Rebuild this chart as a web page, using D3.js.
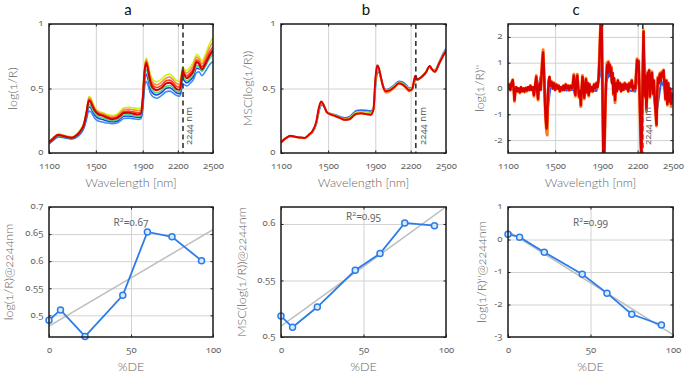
<!DOCTYPE html>
<html>
<head>
<meta charset="utf-8">
<script src="https://cdnjs.cloudflare.com/ajax/libs/d3/7.8.5/d3.min.js"></script>
<style>
  body { margin: 0; background: #fff; }
  svg text {
    font-family: Lato, "Open Sans", sans-serif;
    font-variant-numeric: oldstyle-nums;
    font-feature-settings: "onum";
  }
  svg text.num { font-family: "Noto Sans", Lato, sans-serif; }
  .grid line { stroke: #d2d2d2; stroke-width: 1; }
  .ax line { stroke: #222; }
  .ax text { fill: #666; font-size: 9.5px; font-family: "Noto Sans", Lato, sans-serif; }
  .lbl { fill: #666; font-size: 12.5px; font-weight: 300; }
</style>
</head>
<body>
<div id="chart"></div>
<script>
// ---------- data ----------
const wl = [1100,1140,1180,1220,1260,1300,1340,1370,1400,1420,1440,1455,1470,1490,1520,1560,1600,1640,1680,1710,
  1740,1780,1820,1860,1885,1900,1915,1930,1945,1965,1990,2020,2060,2100,2130,2160,2190,2215,2228,2240,
  2255,2275,2300,2330,2362,2380,2405,2440,2470,2500];

// raw spectra, log(1/R)
const rawYellow = [0.085,0.125,0.148,0.140,0.130,0.126,0.150,0.182,0.240,0.330,0.437,0.432,0.398,0.355,0.325,0.312,0.298,0.290,0.300,0.325,
  0.350,0.355,0.350,0.345,0.350,0.455,0.665,0.737,0.695,0.610,0.565,0.552,0.572,0.605,0.612,0.590,0.560,0.555,0.605,0.665,
  0.652,0.640,0.660,0.700,0.765,0.750,0.715,0.775,0.845,0.895];
const rawOrange = [0.083,0.122,0.145,0.137,0.127,0.123,0.147,0.178,0.235,0.323,0.426,0.419,0.386,0.346,0.316,0.304,0.289,0.280,0.290,0.313,
  0.336,0.340,0.334,0.329,0.334,0.439,0.649,0.722,0.678,0.589,0.542,0.529,0.549,0.582,0.589,0.567,0.537,0.532,0.582,0.655,
  0.636,0.619,0.637,0.676,0.744,0.729,0.692,0.749,0.814,0.860];
const rawRed = [0.082,0.118,0.142,0.134,0.124,0.120,0.143,0.174,0.230,0.316,0.415,0.406,0.375,0.338,0.308,0.295,0.280,0.270,0.279,0.300,
  0.322,0.325,0.319,0.312,0.319,0.424,0.634,0.708,0.660,0.568,0.520,0.507,0.525,0.560,0.565,0.545,0.515,0.510,0.560,0.644,
  0.619,0.598,0.615,0.651,0.723,0.708,0.670,0.723,0.782,0.825];
const rawDarkRed = [0.080,0.115,0.140,0.132,0.122,0.118,0.140,0.170,0.225,0.310,0.405,0.395,0.365,0.330,0.300,0.288,0.272,0.262,0.270,0.290,
  0.310,0.312,0.305,0.298,0.305,0.410,0.620,0.695,0.645,0.550,0.500,0.487,0.505,0.540,0.545,0.525,0.495,0.490,0.540,0.635,
  0.605,0.580,0.595,0.630,0.705,0.690,0.650,0.700,0.755,0.795];
const rawGreen = [0.077,0.110,0.135,0.128,0.119,0.115,0.135,0.163,0.215,0.293,0.377,0.369,0.342,0.309,0.282,0.271,0.258,0.250,0.257,0.276,
  0.295,0.297,0.291,0.285,0.291,0.382,0.578,0.646,0.603,0.520,0.477,0.465,0.484,0.517,0.522,0.504,0.478,0.473,0.516,0.600,
  0.579,0.559,0.574,0.607,0.677,0.669,0.633,0.679,0.731,0.765];
const rawBlue = [0.074,0.106,0.131,0.125,0.116,0.112,0.131,0.158,0.207,0.280,0.357,0.351,0.326,0.294,0.269,0.259,0.248,0.242,0.247,0.266,
  0.285,0.287,0.281,0.275,0.281,0.362,0.548,0.611,0.573,0.499,0.461,0.450,0.469,0.501,0.506,0.489,0.465,0.460,0.498,0.575,
  0.560,0.544,0.559,0.591,0.657,0.654,0.640,0.690,0.750,0.800];
const rawLightBlue = [0.070,0.100,0.125,0.120,0.112,0.108,0.125,0.150,0.195,0.260,0.325,0.322,0.300,0.270,0.248,0.240,0.232,0.228,0.232,0.250,
  0.268,0.270,0.265,0.260,0.265,0.330,0.500,0.555,0.525,0.465,0.435,0.425,0.445,0.475,0.480,0.465,0.445,0.440,0.470,0.535,
  0.530,0.520,0.535,0.565,0.625,0.630,0.600,0.640,0.685,0.710];

// MSC corrected spectra
const mscBlue = [0.085,0.112,0.130,0.125,0.120,0.118,0.140,0.165,0.225,0.315,0.370,0.372,0.350,0.318,0.305,0.295,0.282,0.272,0.280,0.305,
  0.328,0.333,0.330,0.325,0.345,0.500,0.615,0.630,0.590,0.525,0.492,0.498,0.525,0.556,0.550,0.528,0.503,0.505,0.535,0.565,
  0.565,0.578,0.600,0.630,0.668,0.652,0.640,0.700,0.760,0.808];
const mscGreen = [0.084,0.114,0.132,0.126,0.120,0.118,0.143,0.170,0.235,0.330,0.385,0.379,0.353,0.317,0.303,0.291,0.277,0.265,0.271,0.295,
  0.317,0.321,0.317,0.311,0.343,0.530,0.648,0.645,0.595,0.523,0.485,0.492,0.518,0.548,0.541,0.519,0.494,0.503,0.548,0.582,
  0.568,0.578,0.598,0.628,0.672,0.651,0.635,0.695,0.753,0.799];
const mscYellow = [0.083,0.114,0.133,0.126,0.120,0.117,0.144,0.172,0.239,0.336,0.391,0.381,0.354,0.316,0.302,0.289,0.275,0.262,0.267,0.291,
  0.312,0.316,0.311,0.305,0.342,0.542,0.660,0.651,0.597,0.522,0.482,0.489,0.515,0.545,0.537,0.515,0.490,0.502,0.553,0.588,
  0.569,0.578,0.597,0.627,0.673,0.651,0.633,0.693,0.750,0.795];
const mscOrange = [0.080,0.112,0.131,0.123,0.117,0.114,0.141,0.171,0.240,0.338,0.394,0.380,0.351,0.312,0.297,0.285,0.270,0.256,0.260,0.283,
  0.303,0.306,0.301,0.295,0.336,0.552,0.670,0.655,0.594,0.510,0.467,0.474,0.503,0.536,0.528,0.502,0.476,0.492,0.553,0.592,
  0.566,0.574,0.592,0.622,0.670,0.648,0.628,0.688,0.742,0.786];
const mscRed = [0.082,0.115,0.134,0.126,0.120,0.117,0.145,0.175,0.245,0.345,0.400,0.385,0.355,0.315,0.300,0.287,0.272,0.258,0.262,0.285,
  0.305,0.308,0.303,0.297,0.340,0.560,0.680,0.660,0.600,0.520,0.478,0.485,0.510,0.540,0.532,0.510,0.485,0.500,0.560,0.598,
  0.570,0.578,0.595,0.625,0.675,0.650,0.630,0.690,0.745,0.790];

// second derivative
const wlD2 = [1100,1110,1120,1130,1140,1148,1155,1162,1170,1180,
  1190,1200,1210,1220,1230,1240,1250,1260,1270,1280,
  1290,1300,1310,1320,1330,1340,1348,1355,1362,1370,
  1378,1385,1392,1398,1403,1408,1413,1418,1423,1428,
  1433,1438,1445,1452,1460,1470,1480,1490,1500,1510,
  1520,1530,1540,1550,1560,1570,1580,1590,1600,1610,
  1620,1630,1640,1650,1658,1665,1672,1680,1688,1695,
  1702,1710,1718,1725,1732,1740,1747,1755,1762,1770,
  1778,1785,1792,1800,1810,1820,1830,1840,1850,1860,
  1868,1875,1882,1888,1894,1899,1904,1909,1916,1922,
  1928,1934,1940,1946,1952,1958,1964,1970,1976,1982,
  1988,1994,2000,2008,2016,2024,2032,2040,2050,2060,
  2070,2080,2090,2100,2110,2120,2130,2140,2150,2160,
  2170,2180,2188,2195,2202,2208,2214,2220,2226,2232,
  2238,2244,2250,2256,2262,2268,2274,2280,2286,2292,
  2298,2304,2310,2316,2322,2330,2338,2346,2354,2360,
  2366,2372,2380,2388,2396,2404,2412,2420,2428,2436,
  2444,2452,2460,2468,2476,2484,2492,2500];
const d2Red = [0.05,0.15,-0.05,0.2,0.32,0.0,-0.45,-0.1,0.05,-0.1,
  0.0,-0.15,0.05,-0.1,0.0,-0.12,0.02,-0.08,0.05,-0.05,
  0.1,-0.05,0.05,-0.25,0.1,0.45,-0.1,-0.4,0.1,0.2,
  -0.05,0.6,1.1,1.4,0.9,0.3,-0.5,-1.0,-1.35,-1.55,
  -1.2,-0.3,0.3,0.45,0.1,0.25,0.0,0.2,-0.05,0.15,
  0.0,0.1,-0.1,0.05,-0.05,0.1,-0.05,0.15,0.0,0.1,
  -0.05,0.1,0.0,0.15,0.5,-0.1,-0.25,0.3,0.5,0.1,
  -0.3,-0.1,-0.65,0.0,0.45,0.05,-0.35,0.1,0.35,-0.15,
  0.2,-0.25,0.15,-0.1,0.05,-0.1,0.15,0.0,0.2,0.05,
  0.35,1.0,2.0,2.7,2.6,1.0,-1.0,-2.6,-2.7,-1.5,
  -0.3,0.4,0.9,0.6,1.0,0.7,0.9,0.5,0.8,0.2,
  0.6,-0.2,0.4,-0.45,0.2,-0.1,0.3,0.0,0.2,-0.1,
  0.15,-0.05,0.2,0.0,0.15,-0.1,0.2,0.05,0.3,-0.05,
  0.1,0.0,0.6,1.1,0.8,1.05,0.2,-0.9,-2.0,-2.7,
  -1.0,0.8,2.2,0.6,-0.3,0.5,-0.8,-0.2,0.6,0.1,
  0.7,-0.3,0.5,0.0,0.6,-0.2,0.3,-0.5,-1.0,-1.4,
  -0.2,0.4,0.2,0.55,0.3,0.6,0.5,0.7,0.1,-0.4,
  0.3,-0.6,0.2,-0.5,0.0,-0.6,-0.2,-0.4];
const d2Orange = [0.05,0.17,-0.07,0.22,0.34,0.0,-0.5,-0.1,0.05,-0.12,
  0.0,-0.17,0.05,-0.12,0.0,-0.14,0.02,-0.1,0.05,-0.07,
  0.12,-0.05,0.05,-0.3,0.1,0.5,-0.12,-0.45,0.1,0.22,
  -0.05,0.65,1.2,1.5,1.0,0.35,-0.45,-1.05,-1.45,-1.7,
  -1.8,-0.5,0.25,0.45,0.1,0.27,0.0,0.22,-0.07,0.17,
  0.0,0.12,-0.12,0.05,-0.07,0.12,-0.05,0.17,0.0,0.12,
  -0.07,0.12,0.0,0.17,0.55,-0.12,-0.3,0.33,0.55,0.1,
  -0.35,-0.1,-0.7,0.0,0.5,0.05,-0.4,0.1,0.4,-0.17,
  0.22,-0.3,0.17,-0.12,0.05,-0.12,0.17,0.0,0.22,0.05,
  0.4,1.1,2.1,2.7,2.7,1.1,-1.1,-2.7,-2.7,-1.6,
  -0.35,0.45,1.0,0.65,1.05,0.75,0.95,0.55,0.85,0.25,
  0.6,-0.25,0.4,-0.55,0.2,-0.12,0.33,0.0,0.22,-0.12,
  0.17,-0.05,0.22,0.0,0.17,-0.12,0.22,0.05,0.33,-0.07,
  0.12,0.0,0.65,1.15,0.85,1.1,0.2,-0.95,-2.1,-2.7,
  -1.1,0.85,2.25,0.65,-0.35,0.55,-0.9,-0.22,0.65,0.1,
  0.72,-0.35,0.55,0.0,0.65,-0.22,0.33,-0.55,-1.05,-1.45,
  -0.22,0.45,0.22,0.6,0.33,0.65,0.55,0.72,0.1,-0.45,
  0.33,-0.65,0.22,-0.55,0.0,-0.7,-0.22,-0.45];
const wlD2Blue = [1100,1150,1200,1250,1300,1350,1400,1430,1460,1500,1550,1600,1650,1700,1750,1800,1850,1880,1895,1905,
  1915,1930,1960,2000,2050,2100,2150,2180,2210,2230,2250,2280,2320,2360,2400,2440,2470,2500];
const d2Blue = [0.0,-0.05,-0.08,-0.05,-0.05,-0.05,0.9,-1.1,0.05,0.0,-0.05,-0.08,-0.05,-0.12,-0.1,-0.08,-0.1,0.5,2.0,-0.7,
  -2.0,0.2,0.6,0.0,-0.05,-0.02,-0.1,-0.12,0.6,-1.5,1.5,-0.2,0.2,-1.0,0.3,-0.1,-0.55,-0.3];

// values at 2244 nm vs %DE
const pctDE = [0, 7, 22, 45, 60, 75, 93];
const at2244Raw = [0.491, 0.510, 0.461, 0.537, 0.654, 0.645, 0.601];
const at2244Msc = [0.5185, 0.5086, 0.5265, 0.559, 0.5738, 0.6009, 0.5985];
const at2244D2 = [0.165, 0.072, -0.39, -1.07, -1.65, -2.30, -2.63];
const r2Labels = ["0.67", "0.95", "0.99"];

const markerNm = 2244;
const xTicksNm = [1100, 1500, 1900, 2200, 2500];
const xTicksDE = [0, 50, 100];

// ---------- layout ----------
const svg = d3.select("#chart").append("svg").attr("width", 685).attr("height", 375);
const cols = [{ l: 49, r: 213 }, { l: 281, r: 446 }, { l: 508, r: 673 }];
const rowTop = { t: 24, b: 153 }, rowBot = { t: 207, b: 337 };
let clipN = 0;

function makePanel(col, row, xDom, yDom, cfg) {
  const x = d3.scaleLinear().domain(xDom).range([col.l, col.r]);
  const y = d3.scaleLinear().domain(yDom).range([row.b, row.t]);
  const w = col.r - col.l, h = row.b - row.t;
  const id = "clip" + clipN++;
  svg.append("clipPath").attr("id", id).append("rect")
    .attr("x", col.l).attr("y", row.t).attr("width", w).attr("height", h);

  const g = svg.append("g");
  const noDomain = (s) => s.select(".domain").remove();
  g.append("g").attr("class", "grid").attr("transform", `translate(0,${row.b})`)
    .call(d3.axisBottom(x).tickValues(cfg.xGrid).tickSize(-h).tickFormat("")).call(noDomain);
  g.append("g").attr("class", "grid").attr("transform", `translate(${col.l},0)`)
    .call(d3.axisLeft(y).tickValues(cfg.yGrid).tickSize(-w).tickFormat("")).call(noDomain);

  const under = g.append("g");
  const data = g.append("g").attr("clip-path", `url(#${id})`);
  const over = g.append("g");
  const fr = g.append("g");

  fr.append("g").attr("class", "ax").attr("transform", `translate(0,${row.b})`)
    .call(d3.axisBottom(x).tickValues(cfg.xTicks).tickSize(-2.5).tickPadding(cfg.xPad).tickFormat(String))
    .call(noDomain);
  fr.append("g").attr("class", "ax").attr("transform", `translate(${col.l},0)`)
    .call(d3.axisLeft(y).tickValues(cfg.yTicks).tickSize(-2.5).tickPadding(5.5).tickFormat(String))
    .call(noDomain)
    .call((s) => s.selectAll("text").attr("dy", "0.2em"));
  fr.append("g").attr("class", "ax").attr("transform", `translate(0,${row.t})`)
    .call(d3.axisTop(x).tickValues(cfg.xTicks).tickSize(-2.5).tickFormat("")).call(noDomain);
  fr.append("g").attr("class", "ax").attr("transform", `translate(${col.r},0)`)
    .call(d3.axisRight(y).tickValues(cfg.yTicks).tickSize(-2.5).tickFormat("")).call(noDomain);
  fr.append("rect").attr("x", col.l).attr("y", row.t).attr("width", w).attr("height", h)
    .attr("fill", "none").attr("stroke", "#1a1a1a").attr("stroke-width", 1.5);

  fr.append("text").attr("class", "lbl").attr("text-anchor", "middle")
    .attr("x", (col.l + col.r) / 2).attr("y", cfg.xLabelY).text(cfg.xLabel);
  fr.append("text").attr("class", "lbl").attr("text-anchor", "middle")
    .attr("transform", `translate(${cfg.yLabelX},${(row.t + row.b) / 2}) rotate(-90)`)
    .attr("dy", "0.35em").text(cfg.yLabel);

  return { x, y, under, data, over, col, row };
}

function drawSpectra(p, xs, series, width, curve) {
  const line = d3.line().x((d, i) => p.x(xs[i])).y((d) => p.y(d)).curve(curve);
  p.data.selectAll(null).data(series).join("path")
    .attr("d", (s) => line(s.v))
    .attr("fill", "none")
    .attr("stroke", (s) => s.c)
    .attr("stroke-width", (s) => s.w || width)
    .attr("stroke-linejoin", "round");
}

function drawMarker(p, layer, labelDx) {
  const xm = p.x(markerNm);
  layer.append("line").attr("x1", xm).attr("x2", xm).attr("y1", p.row.t).attr("y2", p.row.b)
    .attr("stroke", "#333").attr("stroke-width", 1.6).attr("stroke-dasharray", "5,3.5");
  p.over.append("text").attr("class", "num").attr("fill", "#666").attr("font-size", "9.5px")
    .attr("transform", `translate(${xm + labelDx},${p.row.b - 8}) rotate(-90)`)
    .attr("dy", "0.35em").text(markerNm + " nm");
}

function fit(xs, ys) {
  const mx = d3.mean(xs), my = d3.mean(ys);
  const k = d3.sum(xs, (v, i) => (v - mx) * (ys[i] - my)) / d3.sum(xs, (v) => (v - mx) ** 2);
  return [k, my - k * mx];
}

function drawScatter(p, ys, r2, r2dy) {
  const [k, b] = fit(pctDE, ys);
  p.data.append("line")
    .attr("x1", p.x(0)).attr("y1", p.y(b)).attr("x2", p.x(100)).attr("y2", p.y(b + k * 100))
    .attr("stroke", "#bdbdbd").attr("stroke-width", 1.5);
  const line = d3.line().x((d, i) => p.x(pctDE[i])).y((d) => p.y(d));
  p.over.append("path").attr("d", line(ys)).attr("fill", "none")
    .attr("stroke", "#2b7de9").attr("stroke-width", 1.8);
  p.over.selectAll(null).data(ys).join("circle")
    .attr("cx", (d, i) => p.x(pctDE[i])).attr("cy", (d) => p.y(d)).attr("r", 3)
    .attr("fill", "#dce9fc").attr("stroke", "#2b7de9").attr("stroke-width", 1.5);
  const t = p.over.append("text").attr("class", "num").attr("fill", "#666").attr("font-size", "10px")
    .attr("text-anchor", "middle").attr("x", p.x(50)).attr("y", p.row.t + r2dy);
  t.append("tspan").text("R");
  t.append("tspan").attr("font-size", "7px").attr("dy", -4).text("2");
  t.append("tspan").attr("dy", 4).text("=" + r2);
}

// ---------- top row ----------
const topCfg = (yTicks, yGrid, yLabel, yLabelX) => ({
  xTicks: xTicksNm, xGrid: [1500, 1900, 2200], yTicks, yGrid,
  xPad: 9, xLabel: "Wavelength [nm]", xLabelY: 187, yLabel, yLabelX,
});
const pa = makePanel(cols[0], rowTop, [1100, 2500], [0, 1], topCfg([0, 0.5, 1], [0.5], "log(1/R)", 13));
const pb = makePanel(cols[1], rowTop, [1100, 2500], [0, 1], topCfg([0, 0.5, 1], [0.5], "MSC(log(1/R))", 248));
const pc = makePanel(cols[2], rowTop, [1100, 2500], [-2.5, 2.5], topCfg([-2, -1, 0, 1, 2], [-2, -1, 0, 1, 2], "log(1/R)''", 480));

drawSpectra(pa, wl, [
  { c: "#c6f51a", v: rawYellow },
  { c: "#ff8a3d", v: rawOrange },
  { c: "#3a8cff", v: rawLightBlue },
  { c: "#1f3fe0", v: rawBlue },
  { c: "#45dc80", v: rawGreen },
  { c: "#ff3b22", v: rawRed },
  { c: "#d00000", v: rawDarkRed, w: 2 },
], 1.6, d3.curveMonotoneX);
drawMarker(pa, pa.over, 6);

drawSpectra(pb, wl, [
  { c: "#2a6cf0", v: mscBlue },
  { c: "#3ed67a", v: mscGreen },
  { c: "#e3e81a", v: mscYellow },
  { c: "#ff8a3d", v: mscOrange },
  { c: "#e00000", v: mscRed, w: 2 },
], 1.8, d3.curveMonotoneX);
drawMarker(pb, pb.over, 7);

drawMarker(pc, pc.under, 5);
drawSpectra(pc, wlD2Blue, [{ c: "#2a5cf0", v: d2Blue }], 2, d3.curveLinear);
drawSpectra(pc, wlD2, [
  { c: "#ff7a1a", v: d2Orange, w: 3 },
  { c: "#d80000", v: d2Red, w: 2.4 },
], 2.4, d3.curveLinear);

// ---------- bottom row ----------
const botCfg = (yTicks, yGrid, yLabel, yLabelX) => ({
  xTicks: xTicksDE, xGrid: [50], yTicks, yGrid,
  xPad: 9, xLabel: "%DE", xLabelY: 371, yLabel, yLabelX,
});
const qa = makePanel(cols[0], rowBot, [0, 100], [0.46, 0.7],
  botCfg([0.5, 0.55, 0.6, 0.65, 0.7], [0.5, 0.55, 0.6, 0.65], "log(1/R)@2244nm", 9));
const qb = makePanel(cols[1], rowBot, [0, 100], [0.5, 0.615],
  botCfg([0.5, 0.55, 0.6], [0.55, 0.6], "MSC(log(1/R))@2244nm", 242));
const qc = makePanel(cols[2], rowBot, [0, 100], [-3, 1],
  botCfg([-3, -2, -1, 0, 1], [-2, -1, 0], "log(1/R)''@2244nm", 482));

drawScatter(qa, at2244Raw, r2Labels[0], 18.5);
drawScatter(qb, at2244Msc, r2Labels[1], 13);
drawScatter(qc, at2244D2, r2Labels[2], 18.5);

// ---------- titles ----------
svg.selectAll(".title").data([["a", 128], ["b", 366], ["c", 576]]).join("text")
  .attr("class", "title").attr("x", (d) => d[1]).attr("y", 15)
  .attr("text-anchor", "middle").attr("font-size", "15px").attr("fill", "#111")
  .text((d) => d[0]);
</script>
</body>
</html>
